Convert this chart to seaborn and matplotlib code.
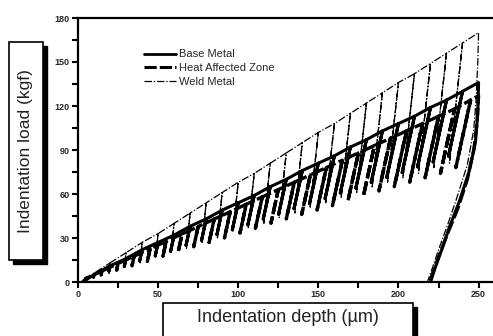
import pandas as pd
import matplotlib.pyplot as plt
import seaborn as sns
from matplotlib.patches import Rectangle
from matplotlib.lines import Line2D
from matplotlib.ticker import MultipleLocator

# Base Metal: peak of each load cycle, bottom of each partial unload, final unload
base_peak_depth = [10, 20, 30, 40, 50, 60, 70, 80, 90, 100, 110, 120,
                   130, 140, 150, 160, 170, 180, 190, 200, 210, 220, 230, 240]
base_peak = [5, 11, 16, 22, 27, 32, 38, 43, 49, 54, 59, 65,
             70, 76, 81, 86, 92, 97, 103, 108, 113, 119, 124, 130]
base_unload_depth = [9.7, 19.3, 28.9, 38.5, 48.2, 57.8, 67.4, 77.1, 86.7, 96.3, 106, 115.6,
                     125.2, 134.8, 144.5, 154.2, 163.7, 173.4, 183, 192.7, 202.3, 211.9, 221.6, 231.2]
base_unload_load = [3.3, 7.3, 10.6, 14.5, 17.8, 21, 25, 28.4, 32.3, 35.6, 39, 42.9,
                    46.2, 50, 53.5, 56.8, 60.7, 64, 68, 71.3, 74.6, 78.5, 81.8, 85.8]
base_final_depth = [250, 249.5, 248, 244, 238, 232, 227, 223, 220]
base_final_load = [136, 115, 95, 75, 55, 38, 22, 10, 0]

# Heat Affected Zone
haz_peak_depth = [5, 15, 25, 35, 45, 55, 65, 75, 85, 95, 105, 115, 125,
                  135, 145, 155, 165, 175, 185, 195, 205, 215, 225, 235, 245]
haz_peak = [2.5, 7.5, 12.6, 17.6, 22.7, 27.7, 32.8, 37.8, 42.9, 47.9, 53, 58, 63,
            68, 73, 78, 83, 88, 93, 98, 103, 108, 113, 118, 124]
haz_unload_depth = [4.8, 14.4, 24.1, 33.7, 43.3, 53, 62.5, 72.2, 81.8, 91.4, 101.1, 110.7, 120.4,
                    130, 139.6, 149.2, 158.8, 168.5, 178.1, 187.8, 197.4, 207, 216.6, 226.2, 235.8]
haz_unload_load = [1.5, 4.7, 8, 11, 14, 17.5, 20.5, 24, 27, 30, 33.5, 36.5, 40,
                   43, 46, 49, 52, 55.5, 58.5, 62, 65, 68, 71, 74, 78]
haz_final_depth = [250, 249, 247, 243, 237, 231, 226, 222, 219.5]
haz_final_load = [127, 108, 90, 70, 50, 34, 20, 8, 0]

# Weld Metal
weld_peak_depth = [10, 20, 30, 40, 50, 60, 70, 80, 90, 100, 110, 120,
                   130, 140, 150, 160, 170, 180, 190, 200, 210, 220, 230, 240]
weld_peak = [6, 13, 20, 27, 33, 40, 47, 54, 61, 68, 74, 81,
             88, 95, 102, 108, 115, 122, 129, 136, 142, 149, 156, 163]
weld_unload_depth = [9.7, 19.4, 29.1, 38.8, 48.4, 58.1, 67.7, 77.4, 87, 96.7, 106.3, 116,
                     125.6, 135.3, 144.9, 154.6, 164.2, 173.9, 183.5, 193.2, 202.8, 212.5, 222.1, 231.8]
weld_unload_load = [3, 6, 10, 13, 17, 20, 23, 27, 30, 34, 37, 40,
                    44, 47, 51, 54, 57, 61, 64, 68, 71, 74, 78, 81]
weld_final_depth = [250, 249.5, 248.5, 247, 243, 236, 231, 225, 221, 218]
weld_final_load = [170, 150, 125, 104, 80, 56, 40, 22, 9, 0]

start_depth = 3


def build_path(pk_d, pk_l, un_d, un_l, fin_d, fin_l):
    xs, ys = [start_depth], [0]
    for i in range(len(pk_d)):
        xs += [pk_d[i], un_d[i], pk_d[i]]
        ys += [pk_l[i], un_l[i], pk_l[i]]
    xs += fin_d
    ys += fin_l
    return pd.DataFrame({"depth": xs, "load": ys})


base_df = build_path(base_peak_depth, base_peak, base_unload_depth, base_unload_load,
                     base_final_depth, base_final_load)
haz_df = build_path(haz_peak_depth, haz_peak, haz_unload_depth, haz_unload_load,
                    haz_final_depth, haz_final_load)
weld_df = build_path(weld_peak_depth, weld_peak, weld_unload_depth, weld_unload_load,
                     weld_final_depth, weld_final_load)

sns.set_style("ticks")
plt.rcParams["font.family"] = ["Liberation Sans", "DejaVu Sans"]

W, H = 493, 336
fig = plt.figure(figsize=(W / 100, H / 100), dpi=100)
ax = fig.add_axes([78 / W, (H - 282) / H, (W - 78) / W, (282 - 18) / H])

weld_ls = (0, (6, 1.5, 1, 1.5))
haz_ls = (0, (4, 1))
sns.lineplot(data=weld_df, x="depth", y="load", sort=False, estimator=None, ax=ax,
             color="black", linewidth=0.9, linestyle=weld_ls)
sns.lineplot(data=haz_df, x="depth", y="load", sort=False, estimator=None, ax=ax,
             color="black", linewidth=2.4, linestyle=haz_ls)
sns.lineplot(data=base_df, x="depth", y="load", sort=False, estimator=None, ax=ax,
             color="black", linewidth=2.2, linestyle="-")

ax.set_xlim(0, 259)
ax.set_ylim(0, 180)
ax.xaxis.set_major_locator(MultipleLocator(50))
ax.xaxis.set_minor_locator(MultipleLocator(25))
ax.yaxis.set_major_locator(MultipleLocator(30))
ax.yaxis.set_minor_locator(MultipleLocator(15))
ax.tick_params(which="both", direction="out", length=4, width=1.5, color="black",
               labelsize=6.5, pad=2)
for lab in ax.get_xticklabels() + ax.get_yticklabels():
    lab.set_fontweight("bold")
for side in ["left", "bottom", "top"]:
    ax.spines[side].set_linewidth(1.6)
    ax.spines[side].set_color("black")
ax.spines["right"].set_visible(False)
ax.set_xlabel("")
ax.set_ylabel("")

handles = [Line2D([], [], color="black", lw=2.0, ls="-"),
           Line2D([], [], color="black", lw=2.2, ls=haz_ls),
           Line2D([], [], color="black", lw=0.9, ls=weld_ls)]
ax.legend(handles, ["Base Metal", "Heat Affected Zone", "Weld Metal"],
          loc="upper left", bbox_to_anchor=(140 / W, 1 - 45 / H), bbox_transform=fig.transFigure,
          frameon=False, fontsize=8, handlelength=2.8, handletextpad=0.3, labelspacing=0.35,
          borderaxespad=0)


# boxed axis titles with drop shadow
def boxed(x0, y0, x1, y1):
    fig.add_artist(Rectangle((x0 / W + 4 / W, 1 - y1 / H - 4 / H), (x1 - x0) / W, (y1 - y0) / H,
                             transform=fig.transFigure, facecolor="black", edgecolor="black"))
    fig.add_artist(Rectangle((x0 / W, 1 - y1 / H), (x1 - x0) / W, (y1 - y0) / H,
                             transform=fig.transFigure, facecolor="white", edgecolor="black", lw=1.2))


boxed(9, 42, 43, 260)
fig.text(26 / W, 1 - 151 / H, "Indentation load (kgf)", rotation=90, ha="center", va="center",
         fontsize=12.5, color="#222222")
boxed(163, 303, 413, 345)
fig.text(288 / W, 1 - 318 / H, "Indentation depth (\u00b5m)", ha="center", va="center",
         fontsize=13, color="#222222")

plt.savefig("out.png", dpi=100)
